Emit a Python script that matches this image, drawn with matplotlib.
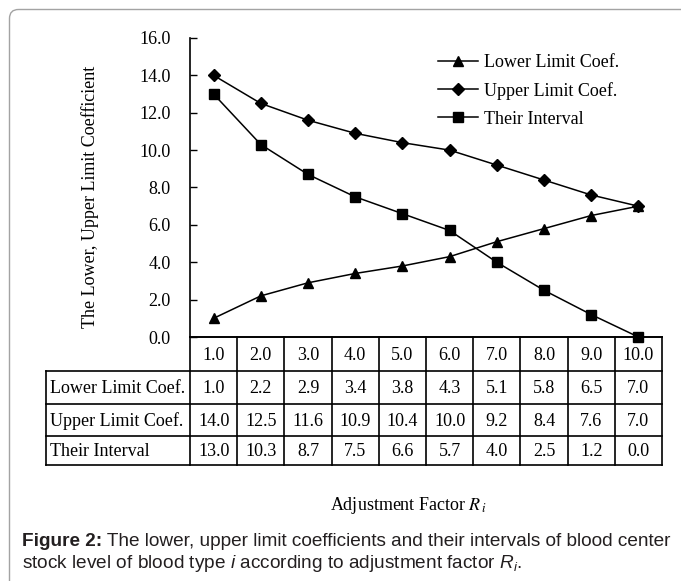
import matplotlib.pyplot as plt
from matplotlib.patches import FancyBboxPatch

plt.rcParams['mathtext.fontset'] = 'custom'
plt.rcParams['mathtext.rm'] = 'Liberation Sans'
plt.rcParams['mathtext.it'] = 'Liberation Sans:italic'
plt.rcParams['mathtext.bf'] = 'Liberation Sans:bold'

factor = [1.0, 2.0, 3.0, 4.0, 5.0, 6.0, 7.0, 8.0, 9.0, 10.0]
lower = [1.0, 2.2, 2.9, 3.4, 3.8, 4.3, 5.1, 5.8, 6.5, 7.0]
upper = [14.0, 12.5, 11.6, 10.9, 10.4, 10.0, 9.2, 8.4, 7.6, 7.0]
interval = [13.0, 10.3, 8.7, 7.5, 6.6, 5.7, 4.0, 2.5, 1.2, 0.0]
names = ["Lower Limit Coef.", "Upper Limit Coef.", "Their Interval"]
yticks = [0, 2, 4, 6, 8, 10, 12, 14, 16]

W, H = 681, 581
serif = 'Liberation Serif'
fs = 13

fig = plt.figure(figsize=(W / 100, H / 100), dpi=100)

# background axes in pixel units for the box, table and caption
bg = fig.add_axes([0, 0, 1, 1])
bg.set_xlim(0, W)
bg.set_ylim(H, 0)
bg.axis('off')
bg.add_patch(FancyBboxPatch((9.5, 9.5), 720, 620, boxstyle="round,pad=0,rounding_size=9",
                            fill=False, ec='#a3a3a3', lw=1.0))

# plot area
x0, x1, ytop, ybot = 190, 662, 38, 337
ax = fig.add_axes([x0 / W, 1 - ybot / H, (x1 - x0) / W, (ybot - ytop) / H])
ax.patch.set_alpha(0)
ax.plot(factor, lower, '-^', color='k', lw=1.1, ms=7, label=names[0], clip_on=False)
ax.plot(factor, upper, '-D', color='k', lw=1.1, ms=6, label=names[1], clip_on=False)
ax.plot(factor, interval, '-s', color='k', lw=1.1, ms=7, label=names[2], clip_on=False)
ax.set_xlim(0.5, len(factor) + 0.5)
ax.set_ylim(0, 16)
ax.set_yticks(yticks)
ax.set_yticklabels([f"{v:.1f}" for v in yticks], family=serif, fontsize=fs)
ax.set_xticks([])
ax.tick_params(axis='y', direction='in', length=5, width=1, pad=14)
for s in ['top', 'right']:
    ax.spines[s].set_visible(False)
for s in ['left', 'bottom']:
    ax.spines[s].set_linewidth(1.2)

ax.legend(loc='upper left', bbox_to_anchor=(438 / W, 1 - 54 / H), bbox_transform=fig.transFigure,
          frameon=False, prop={'family': serif, 'size': fs}, handlelength=2.2,
          handletextpad=0.35, labelspacing=0.6, borderpad=0, borderaxespad=0)

# data table under the axis
n = len(factor)
cw = (x1 - x0) / n
edges = [x0 + i * cw for i in range(n + 1)]
lx = 46
rows_y = [337, 371, 404, 436, 465]
lw = 1.2
bg.plot([x0, x1], [rows_y[0], rows_y[0]], color='k', lw=lw)
for y in rows_y[1:]:
    bg.plot([lx, x1], [y, y], color='k', lw=lw)
for e in edges:
    bg.plot([e, e], [rows_y[0], rows_y[-1]], color='k', lw=lw)
bg.plot([lx, lx], [rows_y[1], rows_y[-1]], color='k', lw=lw)

for i, v in enumerate(factor):
    bg.text(edges[i] + cw / 2, (rows_y[0] + rows_y[1]) / 2 + 1, f"{v:.1f}",
            ha='center', va='center', family=serif, fontsize=fs)
for r, (name, vals) in enumerate(zip(names, [lower, upper, interval])):
    yc = (rows_y[r + 1] + rows_y[r + 2]) / 2 + 1
    bg.text(lx + 4, yc, name, ha='left', va='center', family=serif, fontsize=fs)
    for i, v in enumerate(vals):
        bg.text(edges[i] + cw / 2, yc, f"{v:.1f}", ha='center', va='center',
                family=serif, fontsize=fs)

# axis titles
bg.text(90, 197, "The Lower, Upper Limit Coefficient", rotation=90, ha='center', va='center',
        family=serif, fontsize=fs)
bg.text(408, 505, r"Adjustment Factor $R_{\,i}$", ha='center', va='center',
        family=serif, fontsize=fs, math_fontfamily='stix')

# caption
cap = '#231f20'
cfs = 13.7
head = bg.text(22, 541, "Figure 2:", ha='left', va='center', family='Liberation Sans',
               fontsize=cfs, fontweight='bold', color=cap)
renderer = fig.canvas.get_renderer()
bb = head.get_window_extent(renderer).transformed(bg.transData.inverted())
bg.text(bb.x1, 541, " The lower, upper limit coefficients and their intervals of blood center",
        ha='left', va='center', family='Liberation Sans', fontsize=cfs, color=cap)
bg.text(22, 563, r"stock level of blood type $i$ according to adjustment factor $R_i$.",
        ha='left', va='center', family='Liberation Sans', fontsize=cfs, color=cap)

fig.savefig("out.png", dpi=100)
plt.close(fig)
